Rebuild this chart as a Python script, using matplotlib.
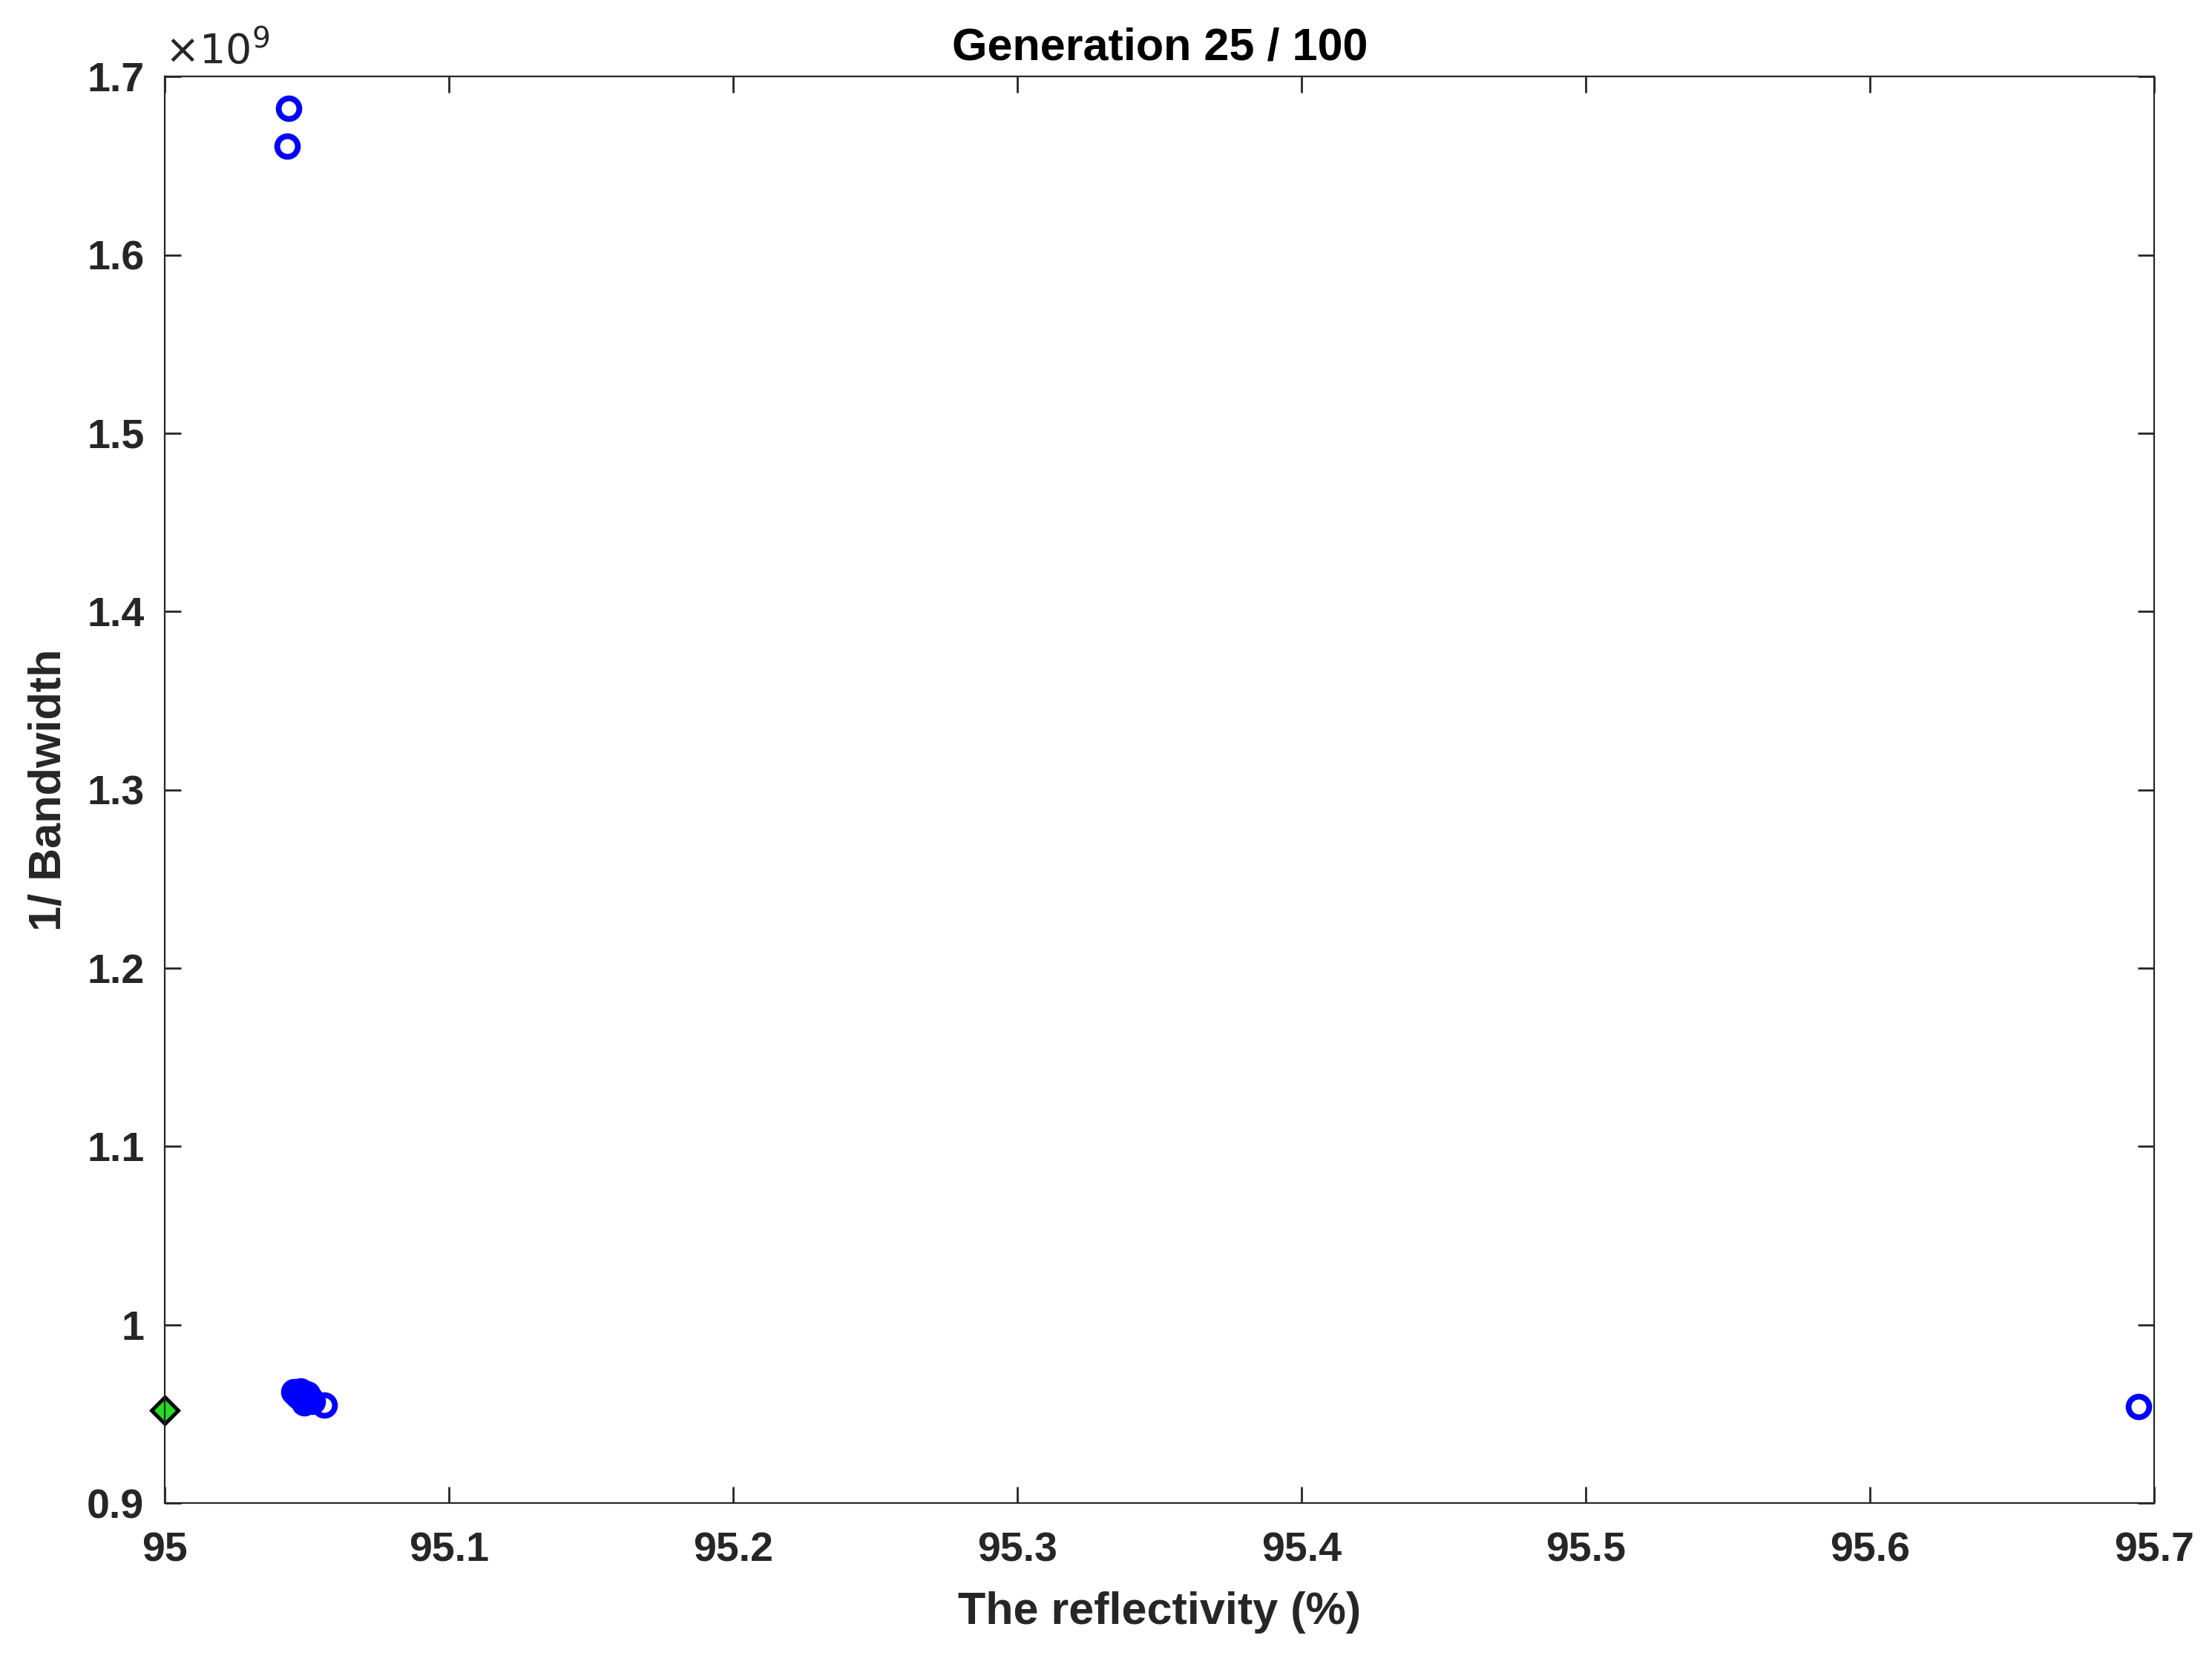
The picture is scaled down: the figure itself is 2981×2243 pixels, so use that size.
import matplotlib
matplotlib.use("Agg")
import matplotlib.pyplot as plt

pop_x = [95.0435, 95.0430, 95.0455, 95.0462, 95.0470, 95.0478, 95.0485, 95.0490, 95.0500, 95.0510, 95.0520, 95.0560, 95.6945]
pop_y = [1.682, 1.661, 0.9625, 0.9610, 0.9600, 0.9630, 0.9580, 0.9560, 0.9610, 0.9590, 0.9570, 0.9550, 0.9540]
best_x = [95.0]
best_y = [0.952]

plt.rcParams['font.family'] = ['Arial', 'Liberation Sans', 'DejaVu Sans']
fig = plt.figure(figsize=(14.905, 11.215), dpi=200)
ax = fig.add_axes([0.0745, 0.0967, 0.8995, 0.8573])
ax.plot(pop_x, [v*1e9 for v in pop_y], 'o', mfc='none', mec='blue', mew=2.8, ms=10, clip_on=False)
ax.plot(best_x, [v*1e9 for v in best_y], 'D', mfc='#22dd22', mec='black', mew=1.8, ms=9, clip_on=False)
ax.set_xlim(95, 95.7)
ax.set_ylim(0.9e9, 1.7e9)
ax.set_xticks([95, 95.1, 95.2, 95.3, 95.4, 95.5, 95.6, 95.7])
ax.set_xticklabels(['95', '95.1', '95.2', '95.3', '95.4', '95.5', '95.6', '95.7'])
ax.set_yticks([v*1e9 for v in [0.9, 1, 1.1, 1.2, 1.3, 1.4, 1.5, 1.6, 1.7]])
ax.set_yticklabels(['0.9', '1', '1.1', '1.2', '1.3', '1.4', '1.5', '1.6', '1.7'])
ax.tick_params(direction='in', top=True, right=True, labelsize=20, length=8, width=1, colors='#262626')
ax.tick_params(axis='x', pad=14)
ax.tick_params(axis='y', pad=10)
for lab in ax.get_xticklabels() + ax.get_yticklabels():
    lab.set_fontweight('bold')
for s in ax.spines.values():
    s.set_color('#262626')
ax.set_xlabel('The reflectivity (%)', fontsize=22, fontweight='bold', color='#262626', labelpad=10)
ax.set_ylabel('1/ Bandwidth', fontsize=22, fontweight='bold', color='#262626', labelpad=8)
ax.set_title('Generation 25 / 100', fontsize=22, fontweight='bold', color='black', pad=8)
ax.text(0.0, 1.003, r'$\times10^{9}$', transform=ax.transAxes, fontsize=20, color='#262626', va='bottom')
fig.savefig('out.png', dpi=200)
